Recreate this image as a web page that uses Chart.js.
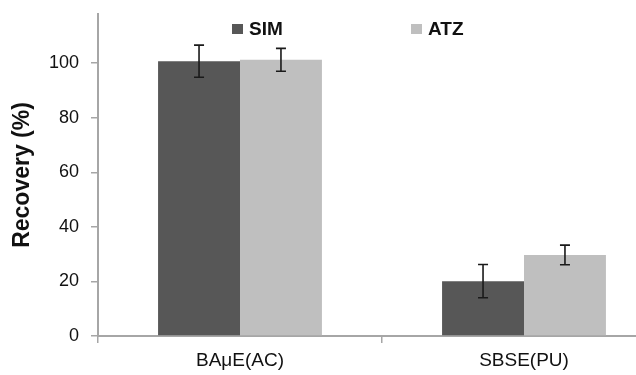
<!DOCTYPE html>
<html>
<head>
<meta charset="utf-8">
<script src="https://cdn.jsdelivr.net/npm/chart.js@4.4.1/dist/chart.umd.min.js"></script>
<style>
  html, body { margin: 0; padding: 0; background: #fff; overflow: hidden; }
  #wrap { position: relative; width: 700px; height: 375px; }
  #legend { position: absolute; top: 0; left: 0; font-family: 'Liberation Sans', Arial, sans-serif; }
  .lg-item { position: absolute; top: 18px; display: flex; align-items: center; white-space: nowrap;
             font-weight: bold; font-size: 19px; color: #111; }
  .lg-box { width: 11px; height: 10px; margin-right: 6px; }
</style>
</head>
<body>
<div id="wrap">
  <canvas id="chart" width="700" height="375"></canvas>
  <div id="legend"></div>
</div>
<script>
// ---- data ----
const categories = ['BAμE(AC)', 'SBSE(PU)'];
const seriesNames = ['SIM', 'ATZ'];
const simValues = [100.7, 20.1];
const simErrors = [5.9, 6.1];
const atzValues = [101.2, 29.7];
const atzErrors = [4.2, 3.6];
const yTicks = [0, 20, 40, 60, 80, 100];

const colors = ['#575757', '#bfbfbf'];
const legendLeft = [232, 411];

// error bars drawn on top of the bars
const errorBars = {
  id: 'errorBars',
  afterDatasetsDraw(chart) {
    const ctx = chart.ctx;
    const y = chart.scales.y;
    chart.data.datasets.forEach((ds, i) => {
      const meta = chart.getDatasetMeta(i);
      meta.data.forEach((bar, j) => {
        const v = ds.data[j], e = ds.errors[j];
        const top = y.getPixelForValue(v + e);
        const bot = y.getPixelForValue(v - e);
        ctx.save();
        ctx.strokeStyle = '#1a1a1a';
        ctx.lineWidth = 1.6;
        ctx.beginPath();
        ctx.moveTo(bar.x, top); ctx.lineTo(bar.x, bot);
        ctx.moveTo(bar.x - 5, top); ctx.lineTo(bar.x + 5, top);
        ctx.moveTo(bar.x - 5, bot); ctx.lineTo(bar.x + 5, bot);
        ctx.stroke();
        ctx.restore();
      });
    });
  }
};

const chart = new Chart(document.getElementById('chart'), {
  type: 'bar',
  data: {
    labels: categories,
    datasets: [
      { label: seriesNames[0], data: simValues, errors: simErrors, backgroundColor: colors[0] },
      { label: seriesNames[1], data: atzValues, errors: atzErrors, backgroundColor: colors[1] }
    ]
  },
  options: {
    responsive: false,
    animation: false,
    devicePixelRatio: 1,
    layout: { padding: { top: 14, right: 34, left: 0, bottom: 0 } },
    datasets: { bar: { categoryPercentage: 0.577, barPercentage: 1.0 } },
    plugins: { legend: { display: false }, tooltip: { enabled: false } },
    scales: {
      x: {
        grid: { drawOnChartArea: false, drawTicks: true, tickLength: 7, color: '#a6a6a6', lineWidth: 1.5 },
        border: { color: '#a6a6a6', width: 2 },
        ticks: { color: '#111', padding: 6, font: { family: "'Liberation Sans', Arial, sans-serif", size: 19 } },
        afterFit(scale) { scale.height = 39; scale.paddingLeft = 0; scale.paddingRight = 0; }
      },
      y: {
        min: 0,
        max: 118,
        afterBuildTicks(scale) { scale.ticks = yTicks.map(v => ({ value: v })); },
        grid: { drawOnChartArea: false, drawTicks: true, tickLength: 7, color: '#a6a6a6', lineWidth: 1.5 },
        border: { color: '#a6a6a6', width: 2 },
        ticks: { color: '#111', padding: 12, font: { family: "'Liberation Sans', Arial, sans-serif", size: 18 } },
        title: {
          display: true,
          text: 'Recovery (%)',
          color: '#111',
          padding: { top: 9, bottom: 0 },
          font: { family: "'Liberation Sans', Arial, sans-serif", size: 23, weight: 'bold' }
        },
        afterFit(scale) { scale.width = 98; scale.paddingTop = 0; scale.paddingBottom = 0; }
      }
    }
  },
  plugins: [errorBars]
});

// html legend, built from the datasets
const legendEl = document.getElementById('legend');
chart.data.datasets.forEach((ds, i) => {
  const item = document.createElement('div');
  item.className = 'lg-item';
  item.style.left = legendLeft[i] + 'px';
  item.innerHTML = `<span class="lg-box" style="background:${ds.backgroundColor}"></span>${ds.label}`;
  legendEl.appendChild(item);
});
</script>
</body>
</html>
